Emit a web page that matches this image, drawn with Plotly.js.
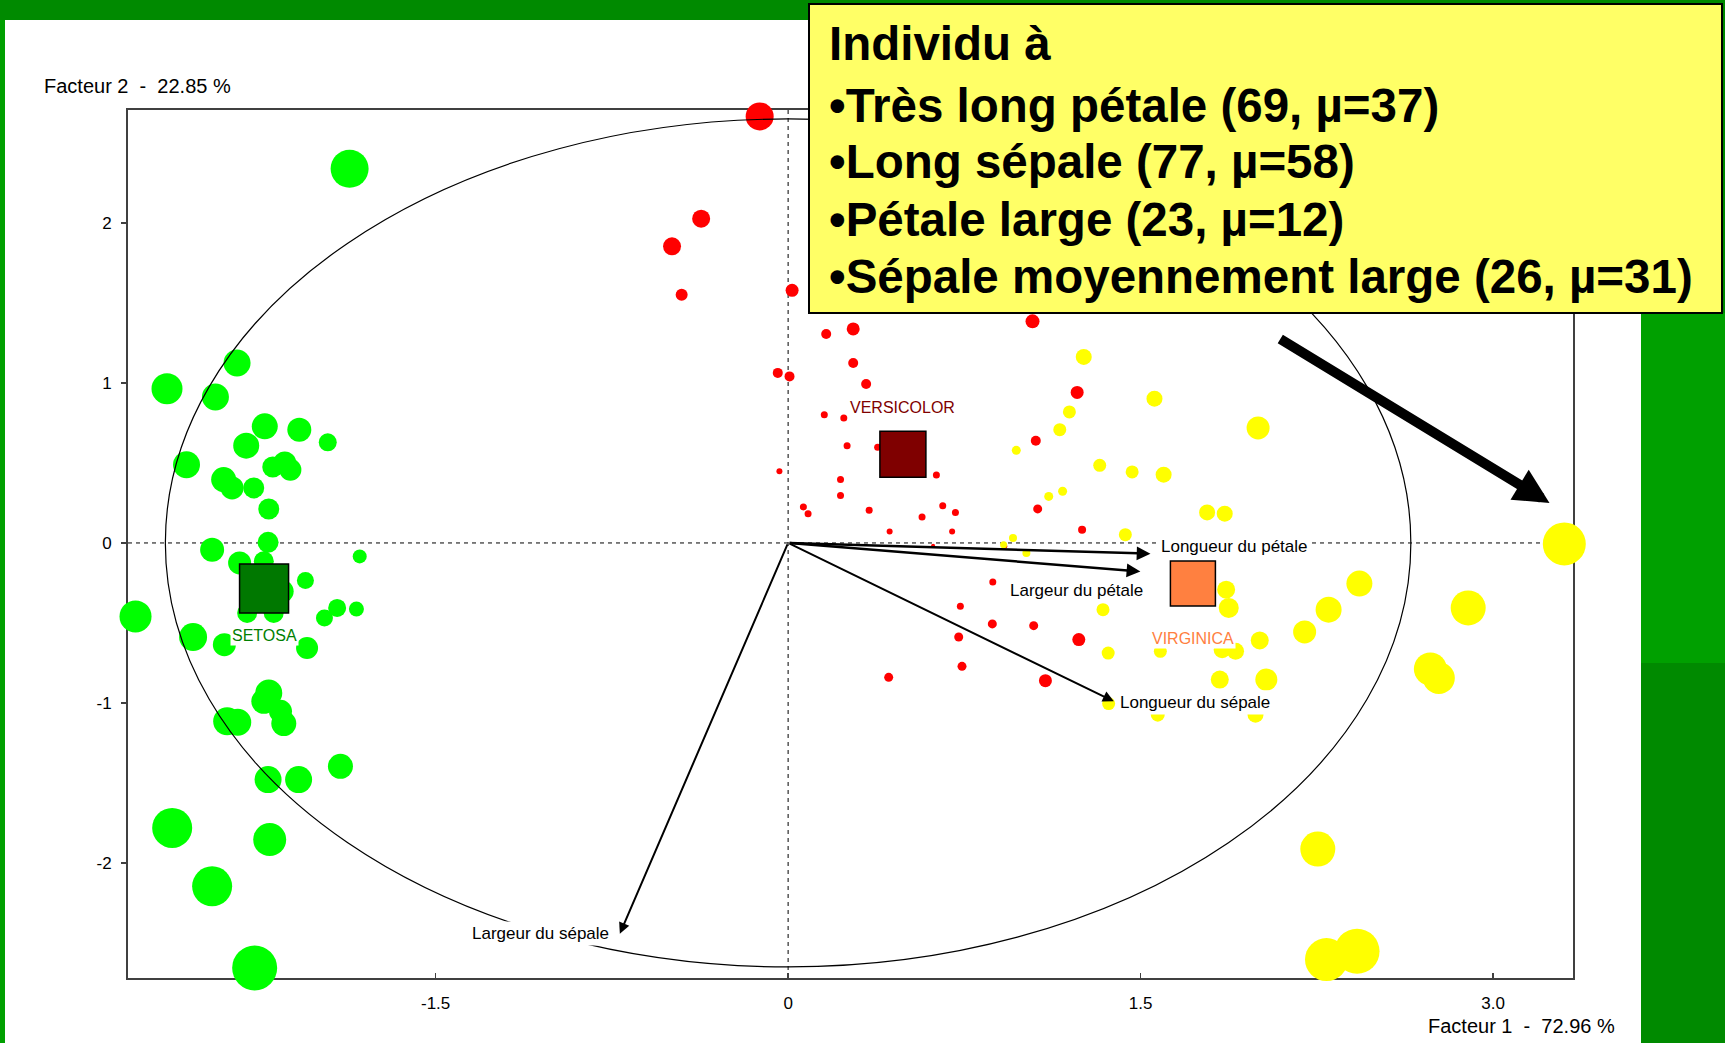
<!DOCTYPE html>
<html>
<head>
<meta charset="utf-8">
<script src="https://cdn.plot.ly/plotly-3.0.1.min.js"></script>
<style>
  html, body { margin: 0; padding: 0; background: #008a00; }
  #chart { width: 1725px; height: 1043px; }
</style>
</head>
<body>
<div id="chart"></div>
<script>
// ---------------- DATA ----------------
// Individuals: coordinates on Facteur 1 / Facteur 2 and dot diameter (quality of representation)
const setosaX = [-1.866,-2.345,-2.643,-2.437,-2.227,-2.080,-1.959,-2.306,-2.560,-2.193,-2.142,-2.118,-2.402,-2.366,-2.274,-2.210,
  -2.213,-2.451,-1.823,-2.334,-2.231,-2.153,-2.302,-2.189,-2.054,-2.777,-1.919,-1.973,-1.837,-2.532,-2.399,-2.047,
  -2.210,-2.231,-2.160,-2.146,-2.387,-2.342,-1.905,-2.213,-2.083,-2.621,-2.206,-2.451,-2.270];
const setosaY = [2.339,1.125,0.964,0.912,0.729,0.708,0.629,0.608,0.489,0.475,0.500,0.458,0.396,0.344,0.344,0.212,
  0.004,-0.042,-0.084,-0.125,-0.115,-0.302,-0.438,-0.438,-0.234,-0.459,-0.406,-0.469,-0.413,-0.588,-0.636,-0.656,
  -0.938,-0.990,-1.052,-1.129,-1.115,-1.121,-1.396,-1.479,-1.479,-1.781,-1.854,-2.146,-2.656];
const setosaSize = [38,27,31,27,26,24,18,26,27,21,23,22,25,23,21,21,
  21,24,14,23,20,23,20,20,17,32,18,17,15,28,23,22,
  27,25,23,25,28,27,25,27,27,40,33,40,45];

const versicolorX = [-0.121,-0.370,-0.494,-0.453,0.017,1.040,0.162,0.277,0.277,-0.044,0.006,0.332,0.154,0.237,1.054,0.251,
  0.381,0.631,-0.037,0.223,0.223,0.065,0.085,0.345,0.658,0.712,0.570,1.062,0.432,0.698,0.617,0.922,
  0.871,0.733,0.869,1.045,0.726,1.237,0.740,0.428,1.095,1.230,1.251];
const versicolorY = [2.666,2.027,1.854,1.552,1.579,1.385,1.306,1.338,1.125,1.063,1.041,0.994,0.802,0.781,0.639,0.608,
  0.598,0.425,0.448,0.396,0.296,0.225,0.183,0.204,0.233,0.191,0.163,0.213,0.071,0.071,-0.017,-0.021,
  -0.244,-0.396,-0.506,-0.517,-0.588,-0.604,-0.771,-0.840,-0.861,0.941,0.083];
const versicolorSize = [28,18,18,12,13,14,10,13,10,10,10,10,7,7,10,7,
  7,7,6,7,7,7,7,7,7,7,7,9,6,6,4,5,
  7,7,9,9,9,13,9,9,13,13,8];

const virginicaX = [1.258,1.559,1.197,2.000,1.156,1.326,1.464,1.598,1.109,1.168,1.783,1.858,1.435,2.431,2.300,2.198,
  1.864,1.875,1.340,2.007,1.362,1.584,1.847,1.904,1.837,2.035,2.733,2.769,0.971,0.957,0.917,1.014,
  2.894,1.364,1.573,1.989,2.254,2.291,2.421,3.303];
const virginicaY = [1.163,0.902,0.819,0.719,0.708,0.485,0.444,0.427,0.291,0.323,0.191,0.183,0.052,-0.254,-0.417,-0.556,
  -0.292,-0.406,-0.417,-0.609,-0.688,-0.677,-0.667,-0.677,-0.854,-0.854,-0.788,-0.844,0.579,0.031,-0.011,-0.063,
  -0.406,-1.004,-1.073,-1.073,-1.913,-2.604,-2.552,-0.006];
const virginicaSize = [16,16,13,23,13,13,13,16,9,9,16,16,13,26,26,23,
  18,20,13,18,13,13,17,17,18,22,33,32,9,8,7,8,
  35,13,14,16,35,43,45,43];

// Group centroids
const groupNames = ['SETOSA', 'VERSICOLOR', 'VIRGINICA'];
const groupX = [-2.230, 0.4885, 1.7226];
const groupY = [-0.284, 0.555, -0.254];

// Variables (correlation arrows, scaled to the circle)
const varNames = ['Longueur du pétale', 'Largeur du pétale', 'Longueur du sépale', 'Largeur du sépale'];
const varX = [1.542, 1.499, 1.386, -0.716];
const varY = [-0.067, -0.178, -0.990, -2.442];
const circleRadius = 2.65;

// Axes
const xTickVals = [-1.5, 0, 1.5, 3.0];
const xTickText = ['-1.5', '0', '1.5', '3.0'];
const yTickVals = [-2, -1, 0, 1, 2];
const yTickText = ['-2', '-1', '0', '1', '2'];
const xTitle = 'Facteur 1  -  72.96 %';
const yTitle = 'Facteur 2  -  22.85 %';

// Call-out text
const boxLines = ['Individu à', '•Très long pétale (69, µ=37)', '•Long sépale (77, µ=58)',
  '•Pétale large (23, µ=12)', '•Sépale moyennement large (26, µ=31)'];
// Highlighted individual (target of the black arrow)
const highlightX = 3.303, highlightY = -0.006;

// ---------------- LAYOUT HELPERS ----------------
const W = 1725, H = 1043, L = 128, R = 1573, T = 110, B = 978;
const px = X => (X - L) / (R - L);
const py = Y => (B - Y) / (B - T);
const FONT = 'Arial, "Liberation Sans", sans-serif';

const dots = (x, y, s, color, name) => ({
  type: 'scatter', mode: 'markers', x: x, y: y, name: name, cliponaxis: false,
  marker: { size: s, color: color, opacity: 1, line: { width: 0 } }, hoverinfo: 'x+y'
});

const traces = [
  dots(setosaX, setosaY, setosaSize, '#00ff00', 'setosa'),
  dots(versicolorX, versicolorY, versicolorSize, '#ff0000', 'versicolor'),
  dots(virginicaX, virginicaY, virginicaSize, '#ffff00', 'virginica'),
  {
    type: 'scatter', mode: 'markers', x: groupX, y: groupY, cliponaxis: false,
    marker: { symbol: 'square', size: [49, 46, 45], color: ['#007800', '#7f0000', '#ff8040'], opacity: 1,
      line: { color: '#000', width: 1.5 } }
  }
];

const groupColors = ['#008000', '#800000', '#ff8040'];
const groupShift = [-47, 47, -55];

const annotations = [];
// variable arrows
varNames.forEach((n, i) => {
  annotations.push({
    x: varX[i], y: varY[i], ax: 0, ay: 0, xref: 'x', yref: 'y', axref: 'x', ayref: 'y',
    text: '', showarrow: true, arrowhead: 2, arrowsize: 1.1, arrowwidth: i < 2 ? 2.5 : 2,
    arrowcolor: '#000', standoff: 0
  });
});
// variable labels
const varLab = [
  { xanchor: 'left', xshift: 8, yshift: 7 },
  { xanchor: 'right', xshift: 6, yshift: -19 },
  { xanchor: 'left', xshift: 3, yshift: -1 },
  { xanchor: 'right', xshift: -8, yshift: 0 }
];
varNames.forEach((n, i) => {
  annotations.push(Object.assign({
    x: varX[i], y: varY[i], xref: 'x', yref: 'y', text: n, showarrow: false,
    yanchor: 'middle', bgcolor: '#ffffff', borderpad: 2,
    font: { family: FONT, size: 17, color: '#000' }
  }, varLab[i]));
});
// group labels
groupNames.forEach((n, i) => {
  annotations.push({
    x: groupX[i], y: groupY[i], xref: 'x', yref: 'y', text: n, showarrow: false,
    xanchor: 'center', yanchor: 'middle', yshift: groupShift[i], bgcolor: '#ffffff', borderpad: 1,
    font: { family: FONT, size: 16, color: groupColors[i] }
  });
});
// axis titles
annotations.push({ x: px(42), y: py(86), xref: 'paper', yref: 'paper', xanchor: 'left', yanchor: 'middle',
  text: yTitle, showarrow: false, font: { family: FONT, size: 20, color: '#000' } });
annotations.push({ x: px(1617), y: py(1026), xref: 'paper', yref: 'paper', xanchor: 'right', yanchor: 'middle',
  text: xTitle, showarrow: false, font: { family: FONT, size: 20, color: '#000' } });
// call-out text
const lineY = [44, 106, 162, 219, 276];
boxLines.forEach((t, i) => {
  annotations.push({ x: px(827), y: py(lineY[i]), xref: 'paper', yref: 'paper', xanchor: 'left', yanchor: 'middle',
    text: '<b>' + t + '</b>', showarrow: false, font: { family: FONT, size: 47.5, color: '#000' } });
});
// big black arrow pointing at the individual
annotations.push({
  x: highlightX - 0.063, y: highlightY + 0.256, ax: highlightX - 1.215, ay: highlightY + 1.287,
  xref: 'x', yref: 'y', axref: 'x', ayref: 'y', text: '', showarrow: true,
  arrowhead: 2, arrowsize: 0.7, arrowwidth: 10, arrowcolor: '#000', standoff: 0
});

const shapes = [
  // white slide area
  { type: 'rect', xref: 'paper', yref: 'paper', x0: px(5), x1: px(1641), y0: py(1043), y1: py(20),
    fillcolor: '#ffffff', line: { width: 0 }, layer: 'below' },
  // lighter green strips
  { type: 'rect', xref: 'paper', yref: 'paper', x0: px(0), x1: px(5), y0: py(1043), y1: py(20),
    fillcolor: '#00a000', line: { width: 0 }, layer: 'below' },
  { type: 'rect', xref: 'paper', yref: 'paper', x0: px(1641), x1: px(1725), y0: py(663), y1: py(313),
    fillcolor: '#00a000', line: { width: 0 }, layer: 'below' },
  // dashed zero lines
  { type: 'line', xref: 'x', yref: 'paper', x0: 0, x1: 0, y0: 0, y1: 1,
    line: { color: '#000', width: 1, dash: '4px,4px' }, layer: 'below' },
  { type: 'line', xref: 'paper', yref: 'y', x0: 0, x1: 1, y0: 0, y1: 0,
    line: { color: '#000', width: 1, dash: '4px,4px' }, layer: 'below' },
  // correlation circle
  { type: 'circle', xref: 'x', yref: 'y', x0: -circleRadius, x1: circleRadius, y0: -circleRadius, y1: circleRadius,
    line: { color: '#000', width: 1.2 }, layer: 'above' },
  // call-out box
  { type: 'rect', xref: 'paper', yref: 'paper', x0: px(809), x1: px(1722), y0: py(313), y1: py(4),
    fillcolor: '#ffff66', line: { color: '#000', width: 2 }, layer: 'above' }
];

const axisCommon = {
  showgrid: false, zeroline: false, showline: true, mirror: true, linecolor: '#404040', linewidth: 2,
  tickfont: { family: FONT, size: 17, color: '#000' }, ticklen: 5, tickwidth: 1.5, tickcolor: '#404040',
  layer: 'below traces', fixedrange: true
};

const layout = {
  width: W, height: H,
  margin: { l: L, r: W - R, t: T, b: H - B, autoexpand: false },
  paper_bgcolor: '#008a00', plot_bgcolor: '#ffffff',
  showlegend: false,
  xaxis: Object.assign({}, axisCommon, { range: [-2.809, 3.340], tickmode: 'array', tickvals: xTickVals,
    ticktext: xTickText, ticks: 'inside', ticklabelstandoff: 9 }),
  yaxis: Object.assign({}, axisCommon, { range: [-2.719, 2.706], tickmode: 'array', tickvals: yTickVals,
    ticktext: yTickText, ticks: 'outside', ticklabelstandoff: 6 }),
  shapes: shapes,
  annotations: annotations,
  font: { family: FONT }
};

Plotly.newPlot('chart', traces, layout, { displayModeBar: false, staticPlot: true });
</script>
</body>
</html>
